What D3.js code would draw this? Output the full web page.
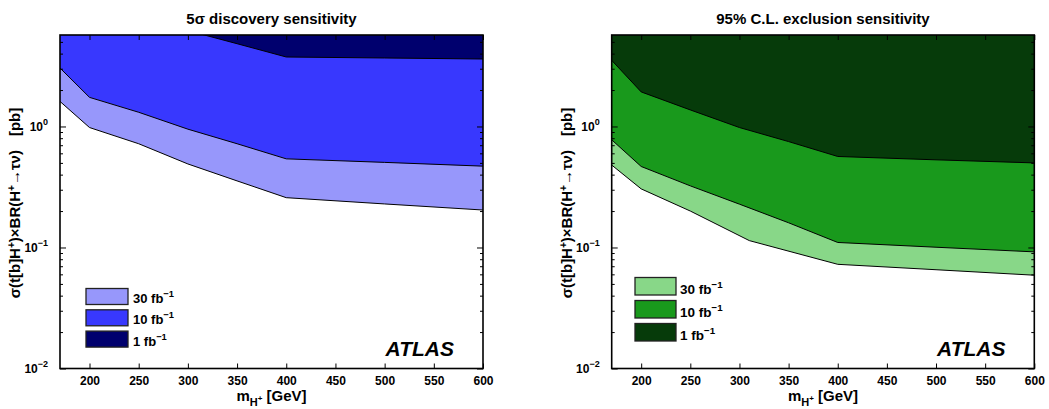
<!DOCTYPE html>
<html>
<head>
<meta charset="utf-8">
<script src="https://cdn.jsdelivr.net/npm/d3@7"></script>
<style>
  html, body { margin: 0; padding: 0; background: #fff; }
  svg { display: block; font-family: "Liberation Sans", Arial, Helvetica, sans-serif; }
</style>
</head>
<body>
<svg id="chart" width="1049" height="409"></svg>
<script>
// ---------------- data ----------------
const massGrid = [170, 200, 250, 300, 350, 400, 500, 600];
const disc30 = [1.61, 0.98, 0.72, 0.49, 0.355, 0.258, 0.229, 0.204];
const disc10 = [3.04, 1.74, 1.31, 0.95, 0.72, 0.54, 0.505, 0.47];
const disc1  = [15, 11, 8.5, 6.2, 4.83, 3.75, 3.68, 3.61];

const massExcl30 = [170, 200, 250, 310, 400, 500, 600];
const excl30 = [0.48, 0.305, 0.20, 0.114, 0.0726, 0.0655, 0.059];
const excl10 = [0.776, 0.467, 0.323, 0.228, 0.160, 0.110, 0.1005, 0.092];
const excl1  = [3.52, 1.93, 1.37, 0.98, 0.75, 0.565, 0.53, 0.50];

const xTicks = [200, 250, 300, 350, 400, 450, 500, 550, 600];
const yMajor = [0.01, 0.1, 1];
const yMajorExp = ["\u22122", "\u22121", "0"];
const legendLabels = ["30 fb", "10 fb", "1 fb"];
const titles = ["5\u03c3 discovery sensitivity", "95% C.L. exclusion sensitivity"];

const blueColors = ["#9797fb", "#3838fe", "#00006e"];
const greenColors = ["#88d788", "#19991c", "#063b0a"];

// ---------------- layout ----------------
const svg = d3.select("#chart");
const top0 = 35, bottom0 = 368.5;
const panels = [
  {x0: 60, x1: 483, title: titles[0], colors: blueColors,
   series: [{m: massGrid, v: disc30}, {m: massGrid, v: disc10}, {m: massGrid, v: disc1}],
   legend: {x: 86, y: 288.5, w: 42, h: 16, step: 21.3, tx: 133, font: 13},
   atlasX: 454},
  {x0: 611.7, x1: 1034.3, title: titles[1], colors: greenColors,
   series: [{m: massExcl30, v: excl30}, {m: massGrid, v: excl10}, {m: massGrid, v: excl1}],
   legend: {x: 635, y: 277.5, w: 41, h: 17.5, step: 23, tx: 680, font: 13.5},
   atlasX: 1005.5}
];

panels.forEach((p, pi) => {
  const x = d3.scaleLinear().domain([170, 600]).range([p.x0, p.x1]);
  const y = d3.scaleLog().domain([0.01, 5.7]).range([bottom0, top0]);
  const g = svg.append("g");

  const clipId = "clip" + pi;
  svg.append("defs").append("clipPath").attr("id", clipId)
    .append("rect").attr("x", p.x0).attr("y", top0)
    .attr("width", p.x1 - p.x0).attr("height", bottom0 - top0);

  const plot = g.append("g").attr("clip-path", `url(#${clipId})`);

  // bands: each filled from its lower boundary up to the top
  p.series.forEach((s, si) => {
    const pts = s.m.map((m, i) => [m, s.v[i]]);
    const area = d3.area()
      .x(d => x(d[0]))
      .y0(top0 - 5)
      .y1(d => y(d[1]));
    plot.append("path").datum(pts)
      .attr("d", area)
      .attr("fill", p.colors[si]);
  });
  p.series.forEach((s, si) => {
    const pts = s.m.map((m, i) => [m, s.v[i]]);
    const line = d3.line().x(d => x(d[0])).y(d => y(d[1]));
    plot.append("path").datum(pts)
      .attr("d", line)
      .attr("fill", "none")
      .attr("stroke", "#000")
      .attr("stroke-width", 1);
  });

  // axes
  const xAxisB = d3.axisBottom(x).tickValues(xTicks).tickSizeInner(-5).tickSizeOuter(0).tickPadding(8);
  const gxb = g.append("g").attr("transform", `translate(0,${bottom0})`).call(xAxisB);
  gxb.selectAll("text").attr("font-size", 12).attr("font-weight", "bold")
     .attr("font-family", "Liberation Sans, Arial, sans-serif").attr("fill", "#000");
  const xAxisT = d3.axisTop(x).tickValues(xTicks).tickSizeInner(-5).tickSizeOuter(0).tickFormat("");
  g.append("g").attr("transform", `translate(0,${top0})`).call(xAxisT);

  const minor = [];
  [0.01, 0.1, 1].forEach(dec => { for (let k = 2; k <= 9; k++) { const v = dec * k; if (v <= 5.7) minor.push(v); } });
  g.append("g").attr("transform", `translate(${p.x0},0)`)
    .call(d3.axisLeft(y).tickValues(minor).tickSizeInner(-3).tickSizeOuter(0).tickFormat(""));
  g.append("g").attr("transform", `translate(${p.x1},0)`)
    .call(d3.axisRight(y).tickValues(minor).tickSizeInner(-3).tickSizeOuter(0).tickFormat(""));
  const gyl = g.append("g").attr("transform", `translate(${p.x0},0)`)
    .call(d3.axisLeft(y).tickValues(yMajor).tickSizeInner(-6).tickSizeOuter(0).tickPadding(12).tickFormat(""));
  g.append("g").attr("transform", `translate(${p.x1},0)`)
    .call(d3.axisRight(y).tickValues(yMajor).tickSizeInner(-6).tickSizeOuter(0).tickFormat(""));
  g.selectAll(".domain").remove();
  g.selectAll(".tick line").attr("stroke", "#000").attr("stroke-width", 1);

  // y tick labels with superscripts
  gyl.selectAll(".tick text").each(function(d, i) {
    const t = d3.select(this);
    t.text(null).attr("font-size", 12).attr("font-weight", "bold")
      .attr("font-family", "Liberation Sans, Arial, sans-serif").attr("fill", "#000")
      .attr("dy", "0.36em").attr("x", -12);
    t.append("tspan").text("10");
    t.append("tspan").attr("dy", -6).attr("font-size", 9).text(yMajorExp[yMajor.indexOf(d)]);
  });

  // frame
  g.append("rect").attr("x", p.x0).attr("y", top0)
    .attr("width", p.x1 - p.x0).attr("height", bottom0 - top0)
    .attr("fill", "none").attr("stroke", "#000").attr("stroke-width", 1.6);

  // title
  g.append("text").attr("x", (p.x0 + p.x1) / 2).attr("y", 24)
    .attr("text-anchor", "middle").attr("font-size", 15).attr("font-weight", "bold")
    .text(p.title);

  // x title
  const xt = g.append("text").attr("x", (p.x0 + p.x1) / 2).attr("y", 401)
    .attr("text-anchor", "middle").attr("font-size", 15).attr("font-weight", "bold");
  xt.append("tspan").text("m");
  xt.append("tspan").attr("dy", 5).attr("font-size", 11).text("H");
  xt.append("tspan").attr("dy", -5).attr("font-size", 8).text("+");
  xt.append("tspan").attr("dy", 0).text(" [GeV]");

  // y title
  const yt = g.append("text")
    .attr("transform", `translate(${p.x0 - 40},${203}) rotate(-90)`)
    .attr("text-anchor", "middle").attr("font-size", 15).attr("font-weight", "bold");
  yt.append("tspan").text("\u03c3(t[b]H");
  yt.append("tspan").attr("dy", -5).attr("font-size", 10).text("+");
  yt.append("tspan").attr("dy", 5).text(")\u00d7BR(H");
  yt.append("tspan").attr("dy", -5).attr("font-size", 10).text("+");
  yt.append("tspan").attr("dy", 5).text("\u2192\u03c4\u03bd)");
  yt.append("tspan").attr("dx", 14).text("[pb]");

  // legend
  const L = p.legend;
  legendLabels.forEach((lab, i) => {
    const yy = L.y + i * L.step;
    g.append("rect").attr("x", L.x).attr("y", yy).attr("width", L.w).attr("height", L.h)
      .attr("fill", p.colors[i]).attr("stroke", "#222").attr("stroke-width", 1.3);
    const tt = g.append("text").attr("x", L.tx).attr("y", yy + L.h - 1.5)
      .attr("font-size", L.font).attr("font-weight", "bold");
    tt.append("tspan").text(lab);
    tt.append("tspan").attr("dy", -6).attr("font-size", L.font * 0.72).text("\u22121");
  });

  // ATLAS label
  g.append("text").attr("x", p.atlasX).attr("y", 355.5)
    .attr("text-anchor", "end").attr("font-size", 21).attr("font-weight", "bold")
    .attr("font-style", "italic").text("ATLAS");
});
</script>
</body>
</html>
